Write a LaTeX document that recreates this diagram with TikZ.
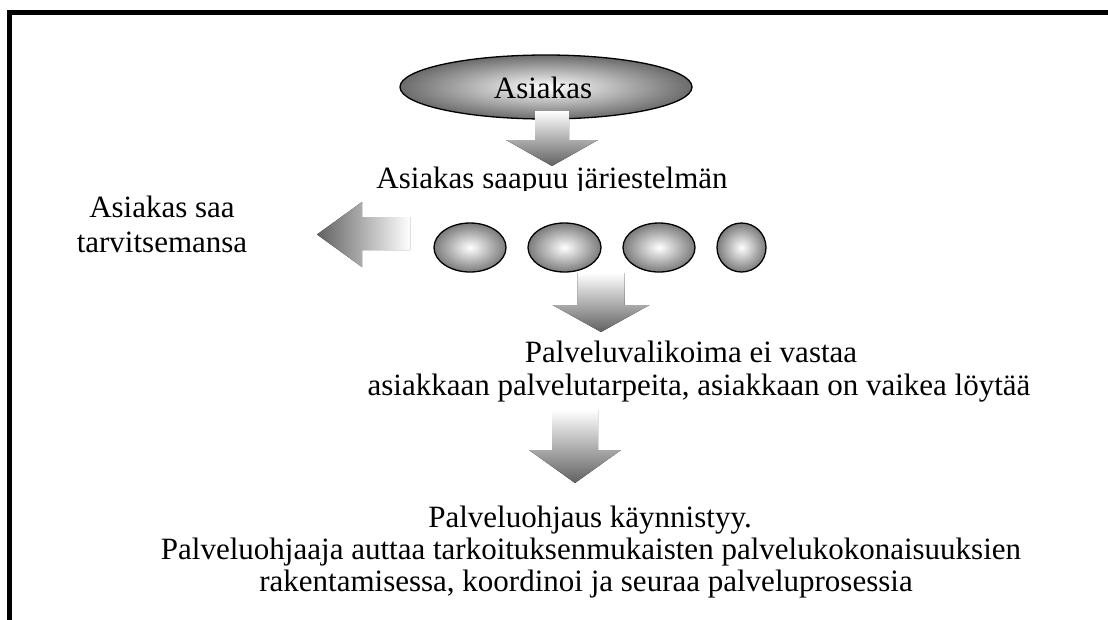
\documentclass[tikz,border=0pt]{standalone}
\usepackage{fontspec}
\setmainfont{Liberation Serif}
\usetikzlibrary{shapes.geometric}
\tikzset{
  x=1pt, y=-1pt,
  ball/.style={ellipse, draw=black, line width=1.3pt, inner sep=0pt,
               inner color=white, outer color=black!52},
  txt/.style={font=\fontsize{31}{33}\selectfont, inner sep=0pt, anchor=base},
  frameline/.style={line width=5pt, line join=miter},
  downfill/.style={top color=white, bottom color=black!62},
  leftfill/.style={left color=black!62, right color=white},
}
\newcommand\blockdown[6]{% cx, ytop, yhead, ytip, half shaft, half head
  \fill[downfill] (#1-#5,#2) -- (#1+#5,#2) -- (#1+#5,#3) -- (#1+#6,#3)
    -- (#1,#4) -- (#1-#6,#3) -- (#1-#5,#3) -- cycle;}
\begin{document}
\begin{tikzpicture}
\useasboundingbox (0,0) rectangle (1108,619);
\fill[white] (0,0) rectangle (1108,619);
% frame
\draw[frameline] (1110,12.5) -| (9.5,621);
% top ellipse
\node[ball, minimum width=292pt, minimum height=64pt, outer color=black!58] (client) at (546,87) {};
\node[txt] (clientlabel) at (543,98) {Asiakas};
% arrow 1
\blockdown{552}{111}{140}{166}{17}{46}
% text under arrow 1 (bottom clipped)
\begin{scope}
  \clip (300,150) rectangle (800,190);
  \node[txt] (arrive) at (552,188) {Asiakas saapuu järiestelmän};
\end{scope}
% left arrow
\fill[leftfill] (410,217) -- (362,217) -- (362,202) -- (317,234.5) -- (362,267) -- (362,250) -- (410,250) -- cycle;
% left text
\node[txt] (gets1) at (162,217) {Asiakas saa};
\node[txt] (gets2) at (162,252) {tarvitsemansa};
% four service balls
\node[ball, minimum width=72pt, minimum height=49pt] (s1) at (470,247.5) {};
\node[ball, minimum width=73pt, minimum height=49pt] (s2) at (564.5,247.5) {};
\node[ball, minimum width=72pt, minimum height=49pt] (s3) at (659,247.5) {};
\node[ball, minimum width=49pt, minimum height=49pt] (s4) at (741.5,247.5) {};
% arrow 2
\blockdown{601}{273}{305}{332}{23.5}{48.5}
% middle text
\node[txt] (mismatch1) at (691,362) {Palveluvalikoima ei vastaa};
\node[txt] (mismatch2) at (699,395) {asiakkaan palvelutarpeita, asiakkaan on vaikea löytää};
% arrow 3
\blockdown{575}{410}{450}{483}{23}{46}
% bottom text
\node[txt] (guide1) at (590,527) {Palveluohjaus käynnistyy.};
\node[txt] (guide2) at (591,559) {Palveluohjaaja auttaa tarkoituksenmukaisten palvelukokonaisuuksien};
\node[txt] (guide3) at (586,591) {rakentamisessa, koordinoi ja seuraa palveluprosessia};
\end{tikzpicture}
\end{document}
